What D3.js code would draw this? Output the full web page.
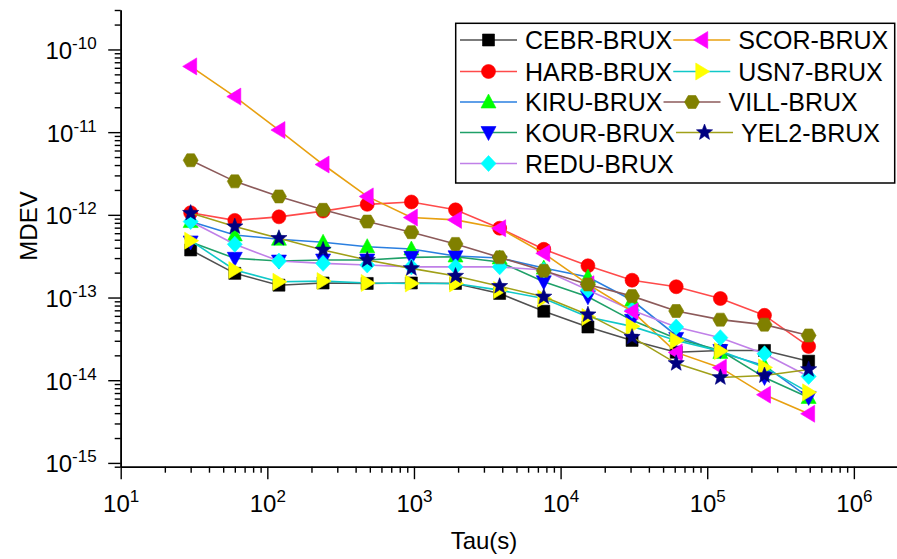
<!DOCTYPE html>
<html>
<head>
<meta charset="utf-8">
<script src="https://cdn.jsdelivr.net/npm/d3@7"></script>
<style>
  body { margin: 0; background: #fff; }
  text { font-family: Arial, "Liberation Sans", sans-serif; fill: #000; }
</style>
</head>
<body>
<svg id="chart" width="897" height="559"></svg>
<script>
// Averaging times (s)
const tau = [30, 60, 120, 240, 480, 960, 1920, 3840, 7680, 15360, 30720, 61440, 122880, 245760, 491520];

// Modified deviation of each baseline
const cebr = [3.76e-13, 1.96e-13, 1.41e-13, 1.50e-13, 1.48e-13, 1.50e-13, 1.48e-13, 1.12e-13, 6.83e-14, 4.40e-14, 3.03e-14, 2.18e-14, 2.29e-14, 2.29e-14, 1.70e-14];
const harb = [1.06e-12, 8.57e-13, 9.46e-13, 1.11e-12, 1.34e-12, 1.43e-12, 1.15e-12, 6.89e-13, 3.83e-13, 2.42e-13, 1.62e-13, 1.35e-13, 9.73e-14, 6.09e-14, 2.56e-14];
const kiru = [8.29e-13, 5.71e-13, 5.07e-13, 4.66e-13, 4.12e-13, 3.86e-13, 3.18e-13, 3.01e-13, 2.27e-13, 1.77e-13, 9.27e-14, 3.48e-14, 2.17e-14, 1.50e-14, 6.19e-15];
const kour = [4.70e-13, 2.98e-13, 2.76e-13, 2.84e-13, 2.84e-13, 3.06e-13, 3.11e-13, 2.69e-13, 1.55e-13, 1.02e-13, 5.30e-14, 3.20e-14, 2.29e-14, 1.08e-14, 6.19e-15];
const redu = [8.29e-13, 4.41e-13, 2.76e-13, 2.59e-13, 2.47e-13, 2.35e-13, 2.35e-13, 2.35e-13, 2.15e-13, 1.23e-13, 7.02e-14, 4.40e-14, 3.27e-14, 2.09e-14, 1.11e-14];
const scor = [6.24e-11, 2.69e-11, 1.06e-11, 4.06e-12, 1.67e-12, 9.27e-13, 8.69e-13, 6.89e-13, 3.42e-13, 1.45e-13, 6.83e-14, 2.17e-14, 1.42e-14, 6.68e-15, 3.93e-15];
const usn7 = [4.87e-13, 2.15e-13, 1.55e-13, 1.58e-13, 1.50e-13, 1.48e-13, 1.48e-13, 1.23e-13, 9.73e-14, 5.81e-14, 4.48e-14, 3.03e-14, 2.25e-14, 1.43e-14, 7.13e-15];
const vill = [4.57e-12, 2.54e-12, 1.67e-12, 1.15e-12, 8.29e-13, 6.17e-13, 4.45e-13, 3.06e-13, 2.11e-13, 1.44e-13, 1.04e-13, 6.87e-14, 5.40e-14, 4.70e-14, 3.48e-14];
const yel2 = [1.05e-12, 7.21e-13, 5.21e-13, 3.76e-13, 2.84e-13, 2.25e-13, 1.82e-13, 1.37e-13, 1.02e-13, 6.21e-14, 3.32e-14, 1.60e-14, 1.08e-14, 1.14e-14, 1.35e-14];

const seriesNames = ["CEBR-BRUX", "HARB-BRUX", "KIRU-BRUX", "KOUR-BRUX", "REDU-BRUX", "SCOR-BRUX", "USN7-BRUX", "VILL-BRUX", "YEL2-BRUX"];
const seriesValues = [cebr, harb, kiru, kour, redu, scor, usn7, vill, yel2];

// Axis tick labels (powers of ten)
const xExponents = [1, 2, 3, 4, 5, 6];
const yExponents = [-15, -14, -13, -12, -11, -10];

// Styling
const lineColors   = ["#505050", "#ff4a4a", "#2a7fe0", "#1fa068", "#c080e8", "#e8a010", "#10c8c8", "#8c5a5a", "#a0a018"];
const markerColors = ["#000000", "#ff0000", "#00ff00", "#0000ff", "#00ffff", "#ff00ff", "#ffff00", "#808000", "#000080"];
const markerShapes = ["square", "circle", "triangleUp", "triangleDown", "diamond", "triangleLeft", "triangleRight", "hexagon", "star"];

function shapePath(kind) {
  switch (kind) {
    case "square": return "M-6,-6H6V6H-6Z";
    case "circle": return "M7,0A7,7 0 1,1 -7,0A7,7 0 1,1 7,0Z";
    case "triangleUp": return "M0,-8L7.5,6L-7.5,6Z";
    case "triangleDown": return "M0,8L7.5,-6L-7.5,-6Z";
    case "triangleLeft": return "M-8,0L6,-8.5L6,8.5Z";
    case "triangleRight": return "M8,0L-6,-8.5L-6,8.5Z";
    case "diamond": return "M0,-8L7.5,0L0,8L-7.5,0Z";
    case "hexagon": {
      const r = 7.5, pts = [];
      for (let i = 0; i < 6; i++) { const a = Math.PI / 3 * i; pts.push([r * Math.cos(a), r * Math.sin(a)]); }
      return "M" + pts.map(p => p[0].toFixed(2) + "," + p[1].toFixed(2)).join("L") + "Z";
    }
    case "star": {
      const ro = 8.5, ri = 3.6, pts = [];
      for (let i = 0; i < 10; i++) {
        const r = i % 2 === 0 ? ro : ri;
        const a = -Math.PI / 2 + Math.PI / 5 * i;
        pts.push([r * Math.cos(a), r * Math.sin(a)]);
      }
      return "M" + pts.map(p => p[0].toFixed(2) + "," + p[1].toFixed(2)).join("L") + "Z";
    }
  }
}

const svg = d3.select("#chart");

const x = d3.scaleLog().domain([10, 2e6]).range([120.7, 898]);
const y = d3.scaleLog().domain([9e-16, 3e-10]).range([466.7, 10]);

// Tick values
const xMajor = xExponents.map(e => Math.pow(10, e));
const xMinor = [];
for (let e = 1; e <= 6; e++) for (let m = 2; m <= 9; m++) { const v = m * Math.pow(10, e); if (v <= 2e6) xMinor.push(v); }
const yMajor = yExponents.map(e => Math.pow(10, e));
const yMinor = [];
for (let e = -16; e <= -10; e++) for (let m = 2; m <= 9; m++) { const v = m * Math.pow(10, e); if (v >= 9e-16 && v <= 3.01e-10) yMinor.push(v); }

const axisG = svg.append("g");

// Minor ticks
axisG.append("g").attr("transform", `translate(0,${y.range()[0]})`)
  .call(d3.axisBottom(x).tickValues(xMinor).tickSize(6).tickSizeOuter(0).tickFormat(""));
axisG.append("g").attr("transform", `translate(${x.range()[0]},0)`)
  .call(d3.axisLeft(y).tickValues(yMinor).tickSize(6).tickSizeOuter(0).tickFormat(""));

// Major ticks with power-of-ten labels
const gx = axisG.append("g").attr("transform", `translate(0,${y.range()[0]})`)
  .call(d3.axisBottom(x).tickValues(xMajor).tickSize(12.5).tickSizeOuter(0).tickFormat(""));
const gy = axisG.append("g").attr("transform", `translate(${x.range()[0]},0)`)
  .call(d3.axisLeft(y).tickValues(yMajor).tickSize(12.5).tickSizeOuter(0).tickFormat(""));

axisG.selectAll("path.domain").attr("stroke", "#000").attr("stroke-width", 1.6);
axisG.selectAll(".tick line").attr("stroke", "#000").attr("stroke-width", 1.4);

gx.selectAll(".tick").each(function (d, i) {
  const t = d3.select(this).append("text")
    .attr("x", 0).attr("y", 45).attr("text-anchor", "middle")
    .style("font-size", "24px").attr("fill", "#000");
  t.append("tspan").text("10");
  t.append("tspan").attr("dy", -10).style("font-size", "17px").text(xExponents[i]);
});
gy.selectAll(".tick").each(function (d, i) {
  const t = d3.select(this).append("text")
    .attr("x", -24).attr("y", 9).attr("text-anchor", "end")
    .style("font-size", "24px").attr("fill", "#000");
  t.append("tspan").text("10");
  t.append("tspan").attr("dy", -10).style("font-size", "17px").text(yExponents[i]);
});

// Axis titles
svg.append("text").attr("x", 484).attr("y", 549).attr("text-anchor", "middle")
  .style("font-size", "24px").text("Tau(s)");
svg.append("text").attr("transform", "translate(37,226) rotate(-90)").attr("text-anchor", "middle")
  .style("font-size", "24px").text("MDEV");

// Series: line first, then markers, in legend order
const line = d3.line().x(d => x(d[0])).y(d => y(d[1]));
const plotG = svg.append("g");
seriesValues.forEach((vals, si) => {
  const pts = tau.map((t, i) => [t, vals[i]]);
  const g = plotG.append("g");
  g.append("path").datum(pts).attr("d", line)
    .attr("fill", "none").attr("stroke", lineColors[si]).attr("stroke-width", 1.6);
  g.selectAll("path.mk").data(pts).join("path").attr("class", "mk")
    .attr("transform", d => `translate(${x(d[0])},${y(d[1])})`)
    .attr("d", shapePath(markerShapes[si]))
    .attr("fill", markerColors[si]).attr("stroke", markerColors[si]).attr("stroke-width", 0.6);
});

// Legend
const leg = svg.append("g");
leg.append("rect").attr("x", 455.7).attr("y", 23.3).attr("width", 439).attr("height", 159.7)
  .attr("fill", "#fff").attr("stroke", "#000").attr("stroke-width", 1.5);
const rowY = [40, 71.5, 102, 132.5, 163.5];
const leftLineX = 460, lineLen = 57, textGap = 8;
const leftWidths = [];
function legendEntry(si, lx, cy) {
  leg.append("line").attr("x1", lx).attr("x2", lx + lineLen).attr("y1", cy).attr("y2", cy)
    .attr("stroke", lineColors[si]).attr("stroke-width", 1.6);
  leg.append("path").attr("transform", `translate(${lx + lineLen / 2},${cy})`)
    .attr("d", shapePath(markerShapes[si]))
    .attr("fill", markerColors[si]).attr("stroke", markerColors[si]).attr("stroke-width", 0.6);
  const t = leg.append("text").attr("x", lx + lineLen + textGap).attr("y", cy + 9)
    .style("font-size", "25px").text(seriesNames[si]);
  return lx + lineLen + textGap + t.node().getComputedTextLength();
}
for (let r = 0; r < 5; r++) {
  const end = legendEntry(r, leftLineX, rowY[r]);
  leftWidths.push(end);
}
for (let r = 0; r < 4; r++) {
  legendEntry(r + 5, leftWidths[r] + 1, rowY[r]);
}
</script>
</body>
</html>
